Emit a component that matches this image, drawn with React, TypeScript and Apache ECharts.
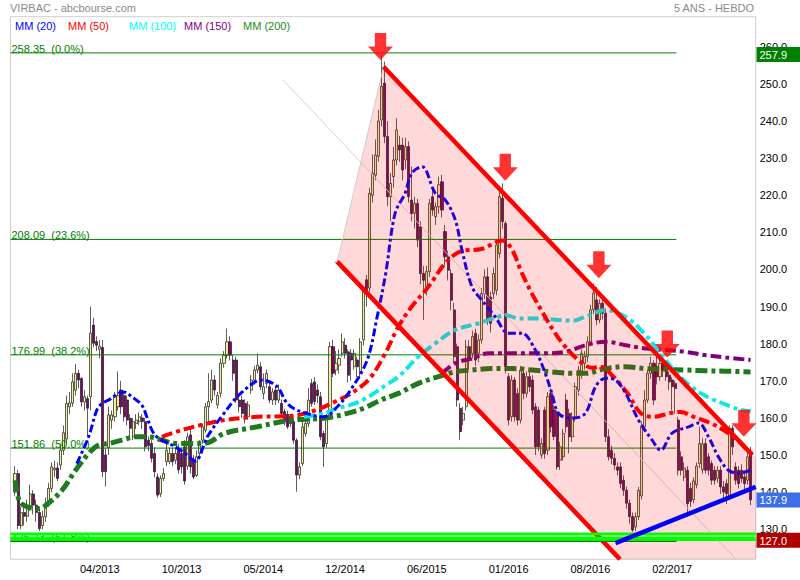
import React, { useEffect, useRef } from "react";
import * as echarts from "echarts";

// ---------- DATA ----------
// weekly candles, week 1..244 : [open, close, low, high]
const candles: number[][] = [
  [140,145,139,147],[145,131,130,146],[131,134.5,130,136],[134.5,133.5,131,137],[133.5,136,132,138],
  [136,139.5,135,142],[139.5,136.5,134,140.5],[136.5,134.5,132,138],[134.5,130.2,129.5,136],[131,133.4,130,135],
  [133.4,137,132,138.5],[137,141,136,142.5],[141,146.8,140,148],[146,146.5,144,148.5],[146.5,143.7,143,148],
  [147.3,151.3,146,153],[151.3,156,150,158],[154.3,163.9,153,166],[163,164,161,167],[164,169.7,163,172],
  [167.5,172,166,174.5],[172,170.2,168,173],[170.6,164.3,163,171],[164.3,165.7,162,167.5],[165.2,162.6,155,166],
  [165.7,182.8,162,190],[185,180.1,179,187],[180.6,179.6,178,182],[178.5,179.3,176,181],[179,145.5,144,181],
  [150,145.5,141.5,152],[152,160.8,150,163],[159.4,160.8,157,162],[160.3,165.7,159,167],[163,166,162,172.5],
  [167.5,163,161,170],[166,160.3,159,167],[164.8,159.4,158,166],[159.9,157.2,155,161],[154.9,159,154,160],
  [158.5,159.4,157,161],[159,160.3,158,161.5],[160,159,157,161],[159,152.2,151,160],[154,152.5,151,155],
  [153.1,149.1,148,154],[150.4,145.5,144,152],[144.1,139.2,138.5,145],[139.5,143.7,138.7,144.5],[143.7,145,143,146.5],
  [148.2,151.3,147,153],[148.2,150.4,147.5,152],[150.4,148.2,147,152],[148.6,150.4,147.5,152],[151.3,146,145,153],
  [150.4,146.8,145,152],[152.2,143,142,154],[147,154.9,146,156],[155.4,146.8,145,157.6],[148.6,144.1,143.5,150],
  [144.5,149.5,144.1,151.3],[150.4,153.1,149.5,154],[154,157.6,153,158.5],[156.7,163,156,164],[163,164.4,158.5,172],
  [164.8,170.2,164,173],[170.2,167.5,166,171.5],[163.5,166.1,162.5,167],[166.6,174.7,165.5,176],[174.7,176.9,173.5,178],
  [176.9,180.5,176,184.1],[180.5,176.9,175.5,182],[175.6,172,170,177],[175.6,164.8,164,176.5],[164.8,163,161.5,166],
  [164.8,161.2,160,166],[163.9,160.3,158.5,165],[160.3,163.5,159.5,164.5],[167.5,170.2,166.5,171.5],[170.2,172.9,169,174],
  [172.9,174.2,172,177.4],[173.8,168.4,167.5,175],[166.6,168.4,165,172],[169.3,172,168,173],[168.4,164.8,164,169.5],
  [164.8,167,163.5,168],[167.5,164.8,163.5,168.5],[164.8,167.5,164,169],[163.9,161.2,160.5,165],[161.7,159,158,162.5],
  [161,157.6,157,162],[160.3,158.5,157.5,161],[159,154,153,160],[154,144.6,140.1,154.5],[144.6,146.8,143.5,148],
  [147.7,157.6,147,159],[155.8,158.5,155,160],[158.5,164.8,157.5,168],[169.3,163.9,163,170.5],[169.7,164.4,163.5,171],
  [167.5,166,164,169],[165.7,154.9,154,167],[155.8,152.2,146.8,156.5],[153.1,160.3,152,161],[160.3,179.2,159.5,180.5],
  [179.2,172,171,181],[172.9,174.7,171.5,178],[174.2,176,172,178.5],[177.4,180.5,176.5,182.8],[179.6,177.4,176,181.5],
  [177.8,171.5,169.5,178.5],[177.4,175.6,170,178.5],[173.8,177.4,173,178.5],[175.6,173.8,171,176.5],[172,180.5,170.5,181.5],
  [181,194.5,179.5,195.5],[197.2,193.6,190,198.5],[195,220.5,194,222],[220,226,218,231],[225.4,230.8,224,235],
  [230.5,240,229,243],[240.3,249.3,238.5,257.9],[250.2,235.8,234,256],[235.8,219.6,217,240],[219.6,223.2,213,226],
  [225,229.5,222,233],[229.5,237.6,228,240.7],[233.5,232.2,229,236],[233.5,226.8,224,235.5],[229.5,233.1,227,235.5],
  [233.1,219.6,218,234.5],[218.7,215.1,213,227.7],[215.1,217.8,211,219.6],[217.8,207.9,206,219],[211.5,198.9,196,213],
  [198.9,197.1,186.4,201],[194.4,199.4,193,201],[199.4,217.8,198,219],[219.6,216,214.5,222],[214.2,216.9,212,218],
  [216.9,222.8,215,225],[223.6,216,214,225.5],[210.2,203.4,201,212],[203.4,199.8,197,205],[198.9,191.7,189,200],
  [189.1,176.5,175,191],[179.2,164.8,163,180],[162.6,156.3,154,164],[159.4,161.2,158,163],[163,179.2,162,181],
  [179.2,175.6,173,181],[177.4,181.9,176,183.5],[182.8,175.6,174,184],[177.4,181,175,182.5],[181,193.5,180,195],
  [193.5,198,192,200],[198,186.4,185,200.5],[192.6,185.5,183,194],[193.5,198.9,192,200.5],[194.4,206.6,193,208],
  [204.3,219.6,203,221],[219.2,212.9,211,223.2],[212.4,173.8,172,213],[171.1,159.4,158,172],[160.3,170.2,159,171.5],
  [170.2,160.3,159,171],[166.6,159.4,158,168],[159.4,172.9,158.5,174],[172,166.6,165,173.5],[166.6,171.1,165.5,172.5],
  [171.1,168.4,167,173],[170.2,162.1,161,171.5],[163,152.2,150,164],[162.1,152.2,151,163],[150,153.1,149,154.5],
  [162.1,150.4,149,163],[151.3,165.7,150,167],[166.6,157.6,156,168],[162.1,155,154,163.5],[161.2,146.8,146,162],
  [148.6,152.2,146,153.5],[149.5,155.8,148.5,157],[164.8,157.6,156,166.5],[161.2,154.9,150.4,162.5],[154.9,160.3,153.5,161.5],
  [160.3,168.4,159,169.5],[167.5,172.9,166,174],[172,177.4,170.5,178.5],[174.7,176.5,173,178],[176.5,180.5,175,182],
  [180.5,189.1,179.5,190.5],[189.1,193.6,188,196.2],[191.8,186.4,185,195.3],[186.4,190.9,185.5,192],[190.9,188.2,186.5,192],
  [188.2,154.9,153.5,189.5],[154.9,149.5,148.5,157],[151.3,149.1,147.5,152.5],[149.1,147.3,146,150.5],[146.8,145.9,144.5,148],
  [146.8,142.3,141,148],[143.2,140.5,139,144.5],[140.5,137,135.5,141.5],[137,133.4,131.5,138],[133.4,129.8,129.3,134.5],
  [130.6,133.4,129.5,134.5],[133.4,140.5,132.5,141.4],[139,157.6,138,159],[157.6,164.8,156.5,167.5],[164.8,172,164,172.9],
  [172,174.7,170.5,176.5],[174.7,164.8,163.5,175.5],[173.8,171.1,169,177.4],[171.1,174.7,170,176],[174.7,172.9,171,176],
  [174.2,171.1,170,175],[171.5,169.7,167.5,172.5],[170.2,168.4,162,171],[169.3,167.9,161.2,170],[159.4,145.9,144.5,160.3],
  [149.5,145.9,144.5,151],[144,146.5,143,148],[145.9,136.9,133.4,147],[141,137.5,136,142.5],[138,143,137,144],
  [142,147,141,148],[147.7,153.1,146.5,157.6],[146,153,145,154.5],[153.1,145.9,145,154.5],[149.5,145.9,144.5,150.5],
  [147.7,143.2,142,148.5],[145.9,143.2,142,147],[143.7,145.9,142.5,147],[145.9,141.4,139.5,147],[141.4,140,138.5,143],
  [142.3,139.6,136.8,143.5],[138.8,157.2,138,158],[157.2,152.2,150,158],[146.8,143.2,142,148],[145.9,142.3,141,147],
  [145.9,143.7,142.5,147.5],[144.1,142.3,140.5,145.5],[143.2,149.5,142,151],[150.9,137.9,136.5,152.2],
];

const xTickWeeks = [29, 56, 83, 110, 137, 164, 191, 218];
const xTickLabels = ["04/2013", "10/2013", "05/2014", "12/2014", "06/2015", "01/2016", "08/2016", "02/2017"];
const yTicks = [130, 140, 150, 160, 170, 180, 190, 200, 210, 220, 230, 240, 250, 260];

// moving averages: [week, value]
const mm20 = [[21.4,147.7],[25.3,154.9],[28,162.1],[29.7,163.9],[31.9,164.8],[35.2,166.6],[36.8,167],[39.6,165.7],[42.9,163.4],[44.5,160.3],[46.2,156.7],[47.8,154.9],[50.6,153.6],[53.9,152.2],[57.2,150.4],[60.5,148.4],[64.5,154.9],[70,161.2],[75.5,166.6],[82.6,170.2],[87.6,168.4],[90.9,163.9],[95.3,161.7],[103,160.3],[107.4,163],[111.8,167.5],[117.3,175.6],[120.6,187.3],[123.4,198.9],[126.5,215.1],[129.8,220.5],[132,225.9],[135.4,227.7],[139.8,220.5],[143.1,218.7],[146.4,213.3],[148.6,205.2],[151.9,195.3],[155.1,191.8],[159.6,187.2],[164,182.8],[168.4,182.8],[172.8,178.3],[176.1,172],[178.3,166.6],[180.5,161.2],[184.9,159.9],[189.4,161.3],[192.7,168.4],[196,170.7],[199.3,170.2],[202.6,166.7],[206.9,159.4],[211.4,154],[214.2,151.3],[218,155.9],[223.4,157.6],[226.7,158.6],[230,154.9],[233.3,149.5],[236.6,145.9],[239.9,145.1],[243.9,145.9]];
const mm50 = [[49.5,154.9],[56,156.7],[62,158],[70,159.4],[81,160.3],[92,160.5],[100,162],[107,164.5],[112,166.6],[118,170.5],[123,177],[127.6,184.6],[132,190],[137.5,195.3],[143,201.6],[148,204.8],[155,205.5],[162,207.8],[165,205.5],[168.4,199],[171.7,193.5],[176,187.3],[179.4,182.8],[182.7,179.2],[187.2,175.5],[191.6,173.5],[194.4,173.8],[198.6,171.1],[203.2,166.7],[207.6,161.3],[211.9,160.3],[217.5,161.3],[220.8,161.6],[225.1,160.3],[230.7,158.6],[235,156.7],[239.6,154],[242.9,151.3],[244.3,150.5]];
const mm100 = [[96.4,160.3],[103,161.2],[107.4,162.6],[111.8,163.5],[116.2,165],[120.6,167.2],[123.4,168.8],[127.6,171.1],[134.2,176.5],[139.8,180.1],[146.4,183.7],[154.1,185.5],[160.7,187.3],[162.9,187.7],[167.3,186.8],[173.9,186.8],[180.5,186.4],[185.4,186.2],[189.4,187.3],[196,189.1],[203,187],[208.5,183],[214,177.5],[219.5,172],[225,168],[230,165.5],[236,163.5],[240,162.3],[244,161.8]];
const mm150 = [[142,172],[146.3,174.7],[151.9,176],[157.4,177.4],[162.9,177.4],[169.5,177.4],[176.1,177.4],[182.8,177.8],[189.4,179.6],[196,180.5],[202.6,179.6],[209.2,178.7],[215.8,178.3],[222.4,177.8],[229,176.9],[235.6,176.3],[243.9,175.6]];
const mm200 = [[1,143.2],[2.5,137.5],[5,136],[9,135.6],[12,137],[16.5,140.5],[21,145.9],[25.3,150.4],[28.6,152.7],[32,153.1],[36.3,154],[40.7,154.9],[45.1,154.9],[49.5,154],[54,153.1],[59,153.1],[64.5,153.3],[70,155.8],[81,157.6],[92,159.4],[103,159.9],[110.7,161.2],[116.2,162.6],[121.7,164.8],[127.6,166.6],[134.2,169.3],[140.8,171.1],[146.3,172.4],[151.9,172.9],[158.5,173.3],[165.1,173.3],[171.7,172.9],[178.3,172.4],[184.9,172],[189.4,172],[196,173.3],[202.6,173.8],[209.2,173.3],[215.8,173.1],[222.4,172.9],[229,172.7],[235.6,172.6],[243.9,172.4]];

const legendNames = ["MM (20)", "MM (50)", "MM (100)", "MM (150)", "MM (200)"];

// Fibonacci retracement levels
const fibLevels = [258.35, 208.09, 176.99, 151.86, 126.73];
const fibPct = ["0.0%", "23.6%", "38.2%", "50.0%", "61.8%"];
const fibEndWeek = 219.4;

// drawings
const arrowPoints = [[121.7,256.4],[162.9,223.9],[193.8,197.6],[216.4,176.3],[241.7,154.9]];
const channelUpper = [[122.7,254.6],[244.5,150.0]];
const channelLower = [[107.4,202.1],[200.8,121.9]];
const supportLine = [[199.3,126.25],[245.6,141.4]];
const faintLine = [[89.5,251.05],[239.1,121.9]];
const limeLevels = [128.75, 127.43];
const tagValues = [257.9, 137.9, 127.0];
const tagColors = ["#008000", "#3D6FE8", "#B00000"];

const FONT = "'Liberation Sans', Arial, Helvetica, sans-serif";

export default function App() {
  const ref = useRef<HTMLDivElement>(null);
  useEffect(() => {
    if (!ref.current) return;
    const chart = echarts.init(ref.current, null, { renderer: "svg" });
    const xMin = -0.5, xMax = 245.6, yMin = 121.9, yMax = 268.1;

    const candleData = candles.map((c, k) => [k + 1, c[0], c[1], c[2], c[3]]);
    const ma = (name: string, data: number[][], color: string, width: number, dash: number[]) => ({
      name, type: "line", data, symbol: "none", smooth: 0.35, z: 3, silent: true,
      lineStyle: { color, width, type: dash, cap: "butt" },
    });
    const seg = (data: number[][], color: string, width: number, z: number, zlevel = 0) => ({
      type: "line", data, symbol: "none", z, zlevel, silent: true, lineStyle: { color, width, cap: "butt" },
    });

    const slopeU = (channelUpper[1][1] - channelUpper[0][1]) / (channelUpper[1][0] - channelUpper[0][0]);
    const area = [
      channelLower[0],
      channelUpper[0],
      [xMax, channelUpper[0][1] + slopeU * (xMax - channelUpper[0][0])],
      [xMax, yMin],
      channelLower[1],
    ];

    const series: any[] = [
      {
        type: "candlestick", data: candleData, encode: { x: 0, y: [1, 2, 3, 4] }, barWidth: 2.6, z: 2, silent: true,
        itemStyle: { color: "#F3EF9C", color0: "#82006A", borderColor: "#1a1a1a", borderColor0: "#1a1a1a", borderWidth: 0.7 },
      },
      seg(faintLine, "#d4d4d4", 1, 2.5),
      ...fibLevels.map((v) => seg([[xMin, v], [fibEndWeek, v]], "#008000", 1, 3)),
      {
        type: "custom", data: fibLevels.map((v) => [xMin, v]), z: 3, silent: true, clip: false,
        renderItem: (p: any, api: any) => {
          const pt = api.coord([api.value(0), api.value(1)]);
          const k = p.dataIndex;
          return {
            type: "text", x: pt[0] + 1, y: pt[1] + 1.5,
            style: { text: `${fibLevels[k].toFixed(2)}  (${fibPct[k]})`, fill: "#008000", font: `11px ${FONT}`, verticalAlign: "bottom", textVerticalAlign: "bottom" },
          };
        },
      },
      ma("MM (200)", mm200, "#1F7A1F", 5, [12, 4, 4, 4]),
      ma("MM (150)", mm150, "#800080", 4, [11, 4, 4, 4]),
      ma("MM (100)", mm100, "#10E8E8", 4, [11, 4, 4, 4]),
      ma("MM (50)", mm50, "#FF0000", 4, [11, 4, 4, 4]),
      ma("MM (20)", mm20, "#0000FF", 3, [8, 3, 3, 3]),
      {
        type: "custom", data: [[0, 150]], z: 4, silent: true, clip: true,
        renderItem: (_p: any, api: any) => ({
          type: "polygon",
          shape: { points: area.map((p) => api.coord(p)) },
          style: { fill: "rgba(255,0,0,0.15)", stroke: "rgba(200,200,200,0.9)", lineWidth: 1 },
        }),
      },
      seg(channelLower.map((p) => [p[0] - 0.8, p[1]]), "#777", 1, 4.5),
      seg(channelUpper, "#FF0000", 4.5, 5),
      seg(channelLower, "#FF0000", 4.5, 5),
      seg([[xMin, limeLevels[0]], [xMax, limeLevels[0]]], "#00FF00", 3, 1, 1),
      seg([[xMin, limeLevels[1]], [xMax, limeLevels[1]]], "#00FF00", 4.5, 1, 1),
      seg([[xMin, fibLevels[4]], [fibEndWeek, fibLevels[4]]], "#008000", 1, 2, 1),
      seg(supportLine, "#0000FF", 4.5, 3, 1),
      {
        type: "scatter", data: arrowPoints, z: 4, zlevel: 1, silent: true,
        symbol: "path://M6,0L16,0L16,12L22,12L11,24L0,12L6,12Z", symbolSize: [25, 27], symbolOffset: [0, "-50%"],
        itemStyle: { color: "#FF0000" },
      },
    ];

    chart.setOption({
      animation: false,
      backgroundColor: "#ffffff",
      grid: { left: 10.5, right: 44.3, top: 16.7, bottom: 20.7, show: true, borderColor: "#cfcfcf", borderWidth: 1 },
      xAxis: {
        type: "value", min: xMin, max: xMax,
        splitLine: { show: false }, axisLine: { show: false }, axisTick: { show: false },
        axisLabel: {
          customValues: xTickWeeks,
          formatter: (v: number) => xTickLabels[xTickWeeks.indexOf(Math.round(v))] ?? "",
          color: "#000", fontFamily: FONT, fontSize: 11, margin: 4,
        },
      },
      yAxis: {
        type: "value", position: "right", min: yMin, max: yMax,
        splitLine: { show: false }, axisLine: { show: false }, axisTick: { show: false },
        axisLabel: {
          customValues: yTicks, formatter: (v: number) => v.toFixed(1),
          color: "#000", fontFamily: FONT, fontSize: 11, margin: 4,
        },
      },
      series,
    });

    const yPix = (v: number) => chart.convertToPixel({ yAxisIndex: 0 }, v) as number;
    const legendColors = ["#0000FF", "#FF0000", "#00FFFF", "#800080", "#228B22"];
    const legendX = [15, 68, 129, 184, 243];
    const graphic: any[] = [
      { type: "text", x: 10, y: 8, z: 10, style: { text: "VIRBAC - abcbourse.com", fill: "#8a8a8a", font: `11px ${FONT}`, verticalAlign: "middle", textVerticalAlign: "middle" } },
      { type: "text", x: 754, y: 8, z: 10, style: { text: "5 ANS - HEBDO", fill: "#8a8a8a", font: `11px ${FONT}`, align: "right", textAlign: "right", verticalAlign: "middle", textVerticalAlign: "middle" } },
      ...legendNames.map((n, k) => ({
        type: "text", x: legendX[k], y: 26, z: 10,
        style: { text: n, fill: legendColors[k], font: `11px ${FONT}`, verticalAlign: "middle", textVerticalAlign: "middle" },
      })),
      ...tagValues.flatMap((v, k) => {
        const py = yPix(v);
        return [
          { type: "rect", z: 20, zlevel: 2, shape: { x: 756.5, y: py - 7.5, width: 44, height: 15 }, style: { fill: tagColors[k] } },
          { type: "text", x: 759.5, y: py + 0.5, z: 21, zlevel: 2, style: { text: v.toFixed(1), fill: "#ffffff", font: `11px ${FONT}`, verticalAlign: "middle", textVerticalAlign: "middle" } },
        ];
      }),
    ];
    chart.setOption({ graphic });

    return () => chart.dispose();
  }, []);
  return <div ref={ref} style={{ position: "fixed", left: 0, top: 0, width: 800, height: 580, background: "#fff" }} />;
}
